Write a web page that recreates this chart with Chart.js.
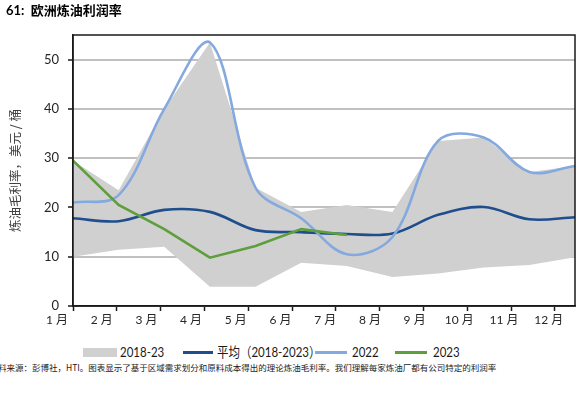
<!DOCTYPE html>
<html><head><meta charset="utf-8">
<script src="https://cdn.jsdelivr.net/npm/chart.js@4"></script>
<style>
body{margin:0;width:583px;height:395px;overflow:hidden;background:#fff;position:relative;}
#c{position:absolute;left:0;top:0;}
.t{position:absolute;white-space:nowrap;}
#title{left:6px;top:0px;font:bold 13px Lato,'Noto Sans CJK SC',sans-serif;color:#000;}
.lg{position:absolute;}
.lt{position:absolute;top:343px;font:14px/18px Lato,'Noto Sans CJK SC',sans-serif;color:#1a1a1a;transform:scaleX(0.82);transform-origin:left center;white-space:nowrap;}
#src{left:-2px;top:361px;font:8.5px/12px 'Noto Sans CJK SC',sans-serif;color:#1a1a1a;}
</style></head>
<body>
<canvas id="c" width="583" height="340"></canvas>
<div id="title" class="t">61:&nbsp; 欧洲炼油利润率</div>
<div class="lg" style="left:83px;top:348px;width:34px;height:9px;background:#d1d0d0"></div>
<div class="lt" style="left:120px">2018-23</div>
<div class="lg" style="left:183px;top:351px;width:30px;height:3px;background:#1f4e8c"></div>
<div class="lt" style="left:217px">平均（2018-2023）</div>
<div class="lg" style="left:315px;top:351px;width:32px;height:3px;background:#84a9de"></div>
<div class="lt" style="left:352px">2022</div>
<div class="lg" style="left:395px;top:351px;width:32px;height:3px;background:#5e9e3c"></div>
<div class="lt" style="left:433px">2023</div>
<div id="src" class="t">料来源：彭博社，HTI。图表显示了基于区域需求划分和原料成本得出的理论炼油毛利率。我们理解每家炼油厂都有公司特定的利润率</div>
<script>
const months = ['1 月','2 月','3 月','4 月','5 月','6 月','7 月','8 月','9 月','10 月','11 月','12 月'];
const bandLow  = [10.0, 11.4, 12.0, 3.9, 3.9, 8.8, 8.1, 5.9, 6.6, 7.8, 8.3, 9.9];
const bandHigh = [29.5, 23.5, 40.0, 53.5, 24.0, 19.1, 20.5, 19.1, 33.5, 34.2, 27.2, 28.4];
const avg      = [17.8, 17.2, 19.5, 19.1, 15.4, 15.0, 14.6, 14.7, 18.5, 20.1, 17.6, 18.0];
const y2022    = [21.0, 22.5, 40.0, 53.5, 24.0, 17.8, 10.5, 14.0, 33.5, 34.2, 27.2, 28.4];
const y2023    = [29.5, 20.5, 15.6, 9.8, 12.2, 15.6, 14.4];
const yTicks   = [0, 10, 20, 30, 40, 50];

const frame = {
  id:'frame',
  afterDatasetsDraw(chart){
    const a = chart.chartArea, ctx = chart.ctx;
    ctx.save();
    ctx.strokeStyle = '#1a1a1a';
    ctx.lineWidth = 1.5;
    ctx.strokeRect(a.left, a.top, a.right - a.left, a.bottom - a.top);
    ctx.restore();
  }
};

new Chart(document.getElementById('c'), {
  type:'line',
  data:{
    labels: months,
    datasets:[
      {label:'low', data:bandLow, borderWidth:0, pointRadius:0, fill:false, tension:0, order:10, borderColor:'rgba(0,0,0,0)'},
      {label:'2018-23', data:bandHigh, borderWidth:0, pointRadius:0, fill:'-1', backgroundColor:'#d1d0d0', tension:0, order:9, borderColor:'rgba(0,0,0,0)'},
      {label:'平均（2018-2023）', data:avg, borderColor:'#1f4e8c', borderWidth:2.6, pointRadius:0, tension:0.35, fill:false, order:2},
      {label:'2022', data:y2022, borderColor:'#84a9de', borderWidth:2.6, pointRadius:0, tension:0.35, fill:false, order:1},
      {label:'2023', data:y2023, borderColor:'#5e9e3c', borderWidth:2.6, pointRadius:0, tension:0, fill:false, order:0}
    ]
  },
  options:{
    responsive:false, animation:false, devicePixelRatio:1,
    layout:{padding:{left:0, top:35, right:8, bottom:5}},
    plugins:{legend:{display:false}, tooltip:{enabled:false}},
    scales:{
      x:{display:false, offset:false},
      x2:{type:'linear', position:'bottom', min:0, max:11.46, weight:0,
        afterBuildTicks:s=>{s.ticks = months.map((m,i)=>({value:i}));},
        afterFit:s=>{s.height = 5;},
        grid:{drawOnChartArea:false, tickLength:5, tickColor:'#1a1a1a', tickWidth:1.5},
        border:{color:'#1a1a1a', width:1.5},
        ticks:{display:false}
      },
      x3:{type:'linear', position:'bottom', min:0, max:11.23, weight:1,
        afterBuildTicks:s=>{s.ticks = months.map((m,i)=>({value:i}));},
        afterFit:s=>{s.height = 24;},
        grid:{display:false, drawTicks:false},
        border:{display:false},
        ticks:{autoSkip:false, maxRotation:0, padding:2, labelOffset:-16,
          callback:(v)=>months[v], color:'#262626',
          font:{family:"Lato, 'Noto Sans CJK SC'", size:12}}
      },
      y:{min:0, max:55,
        afterBuildTicks:s=>{s.ticks = yTicks.map(v=>({value:v}));},
        afterFit:s=>{s.width = 73;},
        grid:{color:'#c0c0c0', lineWidth:2, tickLength:5, tickColor:'#1a1a1a', tickWidth:1.5},
        border:{color:'#1a1a1a', width:1.5},
        ticks:{padding:9, color:'#262626', font:{family:'Lato', size:13}},
        title:{display:true, text:'炼油毛利率，美元 / 桶', color:'#404040',
          font:{family:"'Noto Sans CJK SC'", size:12.5}, padding:{top:8, bottom:0}}
      }
    }
  },
  plugins:[frame]
});
</script>
</body></html>
